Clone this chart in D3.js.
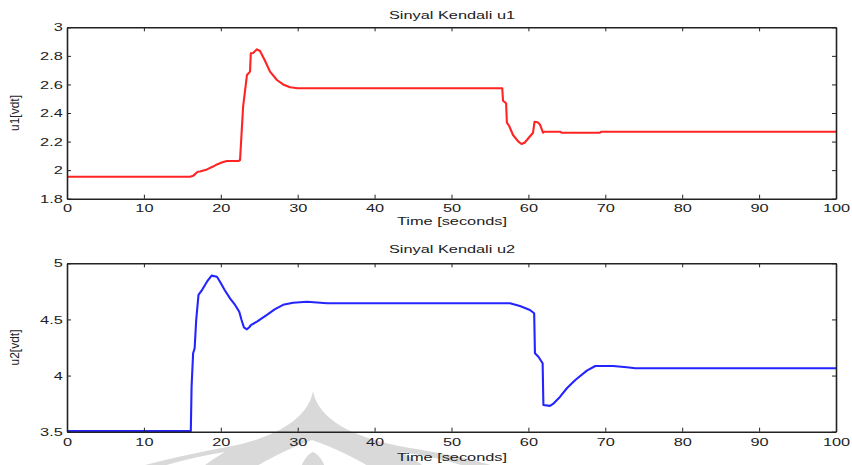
<!DOCTYPE html>
<html>
<head>
<meta charset="utf-8">
<script src="https://cdn.jsdelivr.net/npm/d3@7"></script>
<style>
  html, body { margin: 0; padding: 0; background: #fff; }
  svg { display: block; }
  text { font-family: "Liberation Sans", Arial, Helvetica, sans-serif; fill: #222; }
</style>
</head>
<body>
<svg id="chart" width="852" height="465"></svg>
<script>
// Time axis ticks shared by both panels
const xTicks = [0, 10, 20, 30, 40, 50, 60, 70, 80, 90, 100];

// Control signal u1
const time1 = [0, 16.0, 16.4, 17.0, 17.3, 18.2, 19.0, 19.5, 20.2, 20.8, 22.3, 22.5, 22.9, 23.4, 23.8, 23.9,
  24.2, 24.7, 25.1, 25.7, 26.4, 27.3, 28.1, 29.0, 30.0, 56.6, 56.7, 57.1, 57.2, 57.5, 58.0, 58.7, 59.1, 59.5,
  60.6, 60.8, 61.2, 61.5, 61.9, 62.1, 64.1, 64.3, 69.3, 69.5, 100];
const u1 = [1.954, 1.954, 1.96, 1.989, 1.99, 2.005, 2.025, 2.04, 2.055, 2.064, 2.064, 2.07, 2.444, 2.666, 2.69, 2.818,
  2.82, 2.846, 2.834, 2.771, 2.69, 2.631, 2.60, 2.58, 2.573, 2.573, 2.486, 2.468, 2.332, 2.309, 2.246, 2.199, 2.183, 2.192,
  2.262, 2.339, 2.335, 2.32, 2.262, 2.269, 2.269, 2.262, 2.262, 2.269, 2.269];
const yTicks1 = [1.8, 2, 2.2, 2.4, 2.6, 2.8, 3];
const yDomain1 = [1.8, 3];

// Control signal u2
const time2 = [0, 16.1, 16.2, 16.4, 16.6, 16.8, 17.1, 17.5, 18.2, 18.8, 19.5, 19.9, 20.5, 21.2, 21.8, 22.4, 22.7,
  23.0, 23.4, 23.7, 23.9, 24.7, 26.0, 27.0, 28.1, 29.4, 31.2, 33.8, 57.6, 58.9, 60.2, 60.75, 60.85, 61.3, 61.85,
  61.95, 62.8, 63.2, 64.1, 65.0, 66.1, 67.6, 68.7, 71.0, 72.8, 73.9, 100];
const u2 = [3.505, 3.505, 3.90, 4.199, 4.243, 4.495, 4.718, 4.756, 4.836, 4.89, 4.88, 4.836, 4.762, 4.688, 4.635, 4.569, 4.495,
  4.43, 4.412, 4.43, 4.45, 4.48, 4.54, 4.59, 4.63, 4.649, 4.658, 4.644, 4.644, 4.62, 4.584, 4.555, 4.199, 4.168, 4.11,
  3.738, 3.73, 3.747, 3.81, 3.887, 3.961, 4.044, 4.085, 4.085, 4.074, 4.065, 4.065];
const yTicks2 = [3.5, 4, 4.5, 5];
const yDomain2 = [3.5, 5];

const SX = 1.42;          // horizontal glyph stretch
const FONT = 11.5;
const svg = d3.select("#chart");

// faint emblem behind the lower panel
const mark = svg.append("g").attr("fill", "#d9d9d9");
mark.append("path").attr("d",
  "M313,391 C318,418 350,438 410,448 C445,454 480,460 505,470 L128,470 C160,460 200,452 232,446 " +
  "C272,438 308,420 313,391 Z");
mark.append("path").attr("fill", "#fff").attr("d",
  "M250,470 C270,458 292,447 312,440 C333,447 355,458 375,470 Z");
mark.append("path").attr("d",
  "M300,470 C303,460 308,454 313,452 C318,454 323,460 326,470 Z");
mark.append("path").attr("fill", "#fff").attr("d",
  "M150,470 C175,462 200,456 225,452 C215,458 205,464 200,470 Z");
mark.append("path").attr("fill", "#fff").attr("d",
  "M428,470 C422,464 412,458 400,452 C430,456 455,462 475,470 Z");

function stretchText(parent, x, y, str, anchor) {
  return parent.append("g")
    .attr("transform", `translate(${x},${y}) scale(${SX},1)`)
    .append("text")
    .attr("text-anchor", anchor || "middle")
    .attr("font-size", FONT)
    .text(str);
}

function panel(cfg) {
  const x = d3.scaleLinear().domain([0, 100]).range([67, 836]);
  const y = d3.scaleLinear().domain(cfg.yDomain).range([cfg.bottom, cfg.top]);
  const g = svg.append("g");

  // signal
  const pts = cfg.t.map((t, i) => [t, cfg.v[i]]);
  g.append("path")
    .datum(pts)
    .attr("fill", "none")
    .attr("stroke", cfg.color)
    .attr("stroke-width", 2.1)
    .attr("stroke-linejoin", "round")
    .attr("d", d3.line().x(d => x(d[0])).y(d => y(d[1])));

  const styleAxis = sel => {
    sel.select(".domain").attr("stroke", "#222").attr("stroke-width", 1.6);
    sel.selectAll(".tick line").attr("stroke", "#222").attr("stroke-width", 1);
    sel.selectAll("text")
      .attr("font-size", FONT)
      .attr("fill", "#222")
      .attr("transform", `scale(${SX},1)`);
  };

  g.append("g").attr("transform", `translate(0,${cfg.bottom})`)
    .call(d3.axisBottom(x).tickValues(xTicks).tickSizeInner(-4).tickSizeOuter(0)
      .tickPadding(cfg.xPad).tickFormat(d3.format("d")))
    .call(styleAxis)
    .call(s => s.attr("font-family", null));
  g.append("g").attr("transform", `translate(0,${cfg.top})`)
    .call(d3.axisTop(x).tickValues(xTicks).tickSizeInner(-4).tickSizeOuter(0).tickFormat(""))
    .call(styleAxis);
  g.append("g").attr("transform", "translate(67,0)")
    .call(d3.axisLeft(y).tickValues(cfg.yTicks).tickSizeInner(-4).tickSizeOuter(0)
      .tickPadding(3).tickFormat(d => String(d)))
    .call(styleAxis)
    .call(s => s.attr("font-family", null));
  g.append("g").attr("transform", "translate(836,0)")
    .call(d3.axisRight(y).tickValues(cfg.yTicks).tickSizeInner(-4).tickSizeOuter(0).tickFormat(""))
    .call(styleAxis);

  stretchText(g, 452, cfg.titleY, cfg.title);
  stretchText(g, 452, cfg.xLabelY, "Time [seconds]");
  g.append("text")
    .attr("transform", `translate(19,${(cfg.top + cfg.bottom) / 2}) rotate(-90)`)
    .attr("text-anchor", "middle")
    .attr("font-size", 12)
    .text(cfg.yLabel);
}

panel({ t: time1, v: u1, yDomain: yDomain1, yTicks: yTicks1, top: 27.3, bottom: 198.7,
  color: "#ff2424", title: "Sinyal Kendali u1", titleY: 19, xLabelY: 224.5, xPad: 5.5, yLabel: "u1[vdt]" });
panel({ t: time2, v: u2, yDomain: yDomain2, yTicks: yTicks2, top: 263.3, bottom: 431.7,
  color: "#2424ff", title: "Sinyal Kendali u2", titleY: 253, xLabelY: 461, xPad: 6, yLabel: "u2[vdt]" });
</script>
</body>
</html>
